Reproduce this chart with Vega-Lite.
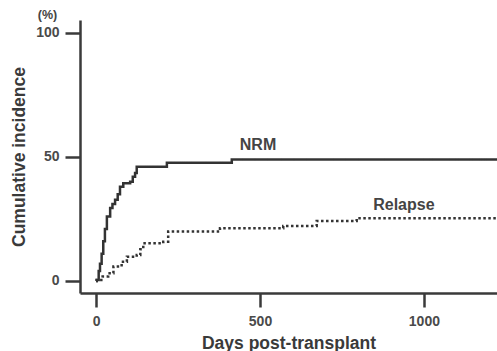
{
  "$schema": "https://vega.github.io/schema/vega-lite/v6.json",
  "width": 417,
  "height": 273,
  "autosize": {"type": "none"},
  "padding": {"left": 80, "top": 20, "right": 0, "bottom": 58},
  "background": "white",
  "config": {
    "view": {"stroke": null},
    "font": "Liberation Sans",
    "axis": {
      "grid": false,
      "domainColor": "#3a3a3a",
      "domainWidth": 2.5,
      "tickColor": "#3a3a3a",
      "tickWidth": 2.5,
      "labelFont": "Liberation Sans",
      "labelFontWeight": "bold",
      "labelFontSize": 14,
      "labelColor": "#4a4a4a",
      "titleFont": "Liberation Sans",
      "titleFontWeight": "bold",
      "titleFontSize": 17.5,
      "titleColor": "#3a3a3a"
    }
  },
  "datasets": {
    "curves": [
      {"series": "NRM", "day": 0, "ci": 0},
      {"series": "NRM", "day": 2, "ci": 0.4},
      {"series": "NRM", "day": 8, "ci": 4},
      {"series": "NRM", "day": 12, "ci": 7},
      {"series": "NRM", "day": 17, "ci": 11},
      {"series": "NRM", "day": 22, "ci": 16},
      {"series": "NRM", "day": 27, "ci": 21},
      {"series": "NRM", "day": 33, "ci": 26},
      {"series": "NRM", "day": 43, "ci": 29.4},
      {"series": "NRM", "day": 50, "ci": 31},
      {"series": "NRM", "day": 58, "ci": 32.7},
      {"series": "NRM", "day": 66, "ci": 35},
      {"series": "NRM", "day": 73, "ci": 38},
      {"series": "NRM", "day": 83, "ci": 39.4},
      {"series": "NRM", "day": 104, "ci": 40},
      {"series": "NRM", "day": 112, "ci": 42},
      {"series": "NRM", "day": 119, "ci": 43.5},
      {"series": "NRM", "day": 124, "ci": 46},
      {"series": "NRM", "day": 216, "ci": 47.7},
      {"series": "NRM", "day": 414, "ci": 49},
      {"series": "NRM", "day": 1230, "ci": 49},
      {"series": "Relapse", "day": 0, "ci": 0},
      {"series": "Relapse", "day": 2, "ci": 0.4},
      {"series": "Relapse", "day": 20, "ci": 1.8},
      {"series": "Relapse", "day": 37, "ci": 3.1},
      {"series": "Relapse", "day": 53, "ci": 5.8},
      {"series": "Relapse", "day": 78, "ci": 7.8},
      {"series": "Relapse", "day": 94, "ci": 9.8},
      {"series": "Relapse", "day": 124, "ci": 10.5},
      {"series": "Relapse", "day": 135, "ci": 12.8},
      {"series": "Relapse", "day": 144, "ci": 15.2},
      {"series": "Relapse", "day": 205, "ci": 15.8},
      {"series": "Relapse", "day": 220, "ci": 19.9},
      {"series": "Relapse", "day": 378, "ci": 21.3},
      {"series": "Relapse", "day": 571, "ci": 22.2},
      {"series": "Relapse", "day": 673, "ci": 24.2},
      {"series": "Relapse", "day": 795, "ci": 25.3},
      {"series": "Relapse", "day": 1230, "ci": 25.3}
    ],
    "curveLabels": [
      {"label": "NRM", "day": 494, "ci": 54.8},
      {"label": "Relapse", "day": 939, "ci": 30.6}
    ],
    "unitLabel": [
      {"label": "(%)", "day": -148, "ci": 107.3}
    ]
  },
  "layer": [
    {
      "data": {"name": "curves"},
      "mark": {"type": "line", "interpolate": "step-after", "strokeWidth": 2.5, "color": "#333333", "clip": true},
      "encoding": {
        "x": {
          "field": "day", "type": "quantitative",
          "scale": {"domain": [-49, 1223], "nice": false, "zero": false},
          "axis": {"values": [0, 500, 1000], "format": "d", "tickSize": 14, "labelPadding": 7, "title": "Days post-transplant", "titlePadding": 6}
        },
        "y": {
          "field": "ci", "type": "quantitative",
          "scale": {"domain": [-4.84, 105.2], "nice": false, "zero": false},
          "axis": {"values": [0, 50, 100], "tickSize": 15, "labelPadding": 6, "title": "Cumulative incidence", "titlePadding": 7}
        },
        "detail": {"field": "series"},
        "strokeDash": {
          "field": "series", "type": "nominal",
          "scale": {"domain": ["NRM", "Relapse"], "range": [[1, 0], [2.5, 2.5]]},
          "legend": null
        }
      }
    },
    {
      "data": {"name": "curveLabels"},
      "mark": {"type": "text", "font": "Liberation Sans", "fontWeight": "bold", "fontSize": 16, "color": "#444444", "clip": false},
      "encoding": {
        "x": {"field": "day", "type": "quantitative"},
        "y": {"field": "ci", "type": "quantitative"},
        "text": {"field": "label"}
      }
    },
    {
      "data": {"name": "unitLabel"},
      "mark": {"type": "text", "font": "Liberation Sans", "fontWeight": "bold", "fontSize": 12.5, "color": "#444444", "clip": false},
      "encoding": {
        "x": {"field": "day", "type": "quantitative"},
        "y": {"field": "ci", "type": "quantitative"},
        "text": {"field": "label"}
      }
    }
  ]
}
